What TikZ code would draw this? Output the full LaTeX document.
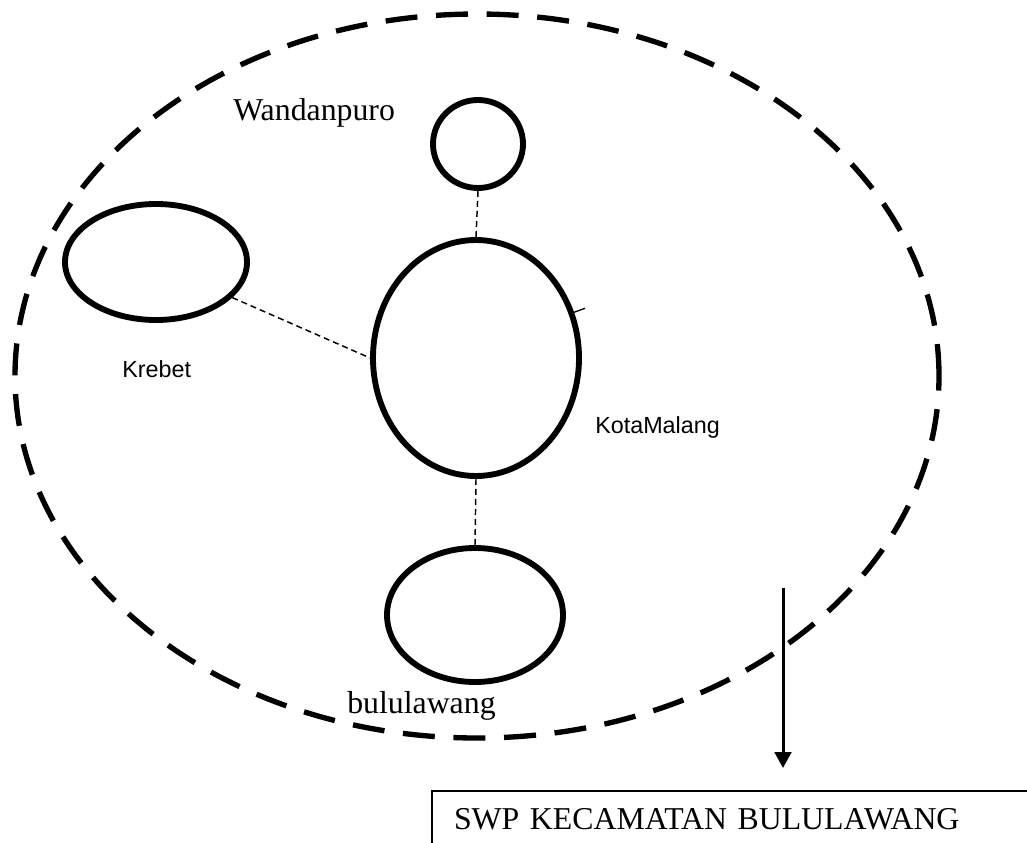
\documentclass[tikz,border=0pt]{standalone}
\usepackage{fontspec}
\setmainfont{Liberation Serif}
\setsansfont{Liberation Sans}
\usetikzlibrary{shapes.geometric,arrows.meta}
\begin{document}
\begin{tikzpicture}[x=0.75pt,y=-0.75pt,
    place/.style={draw,ellipse,line width=4.4pt,inner sep=0pt},
    link/.style={line width=1.1pt,dash pattern=on 4.5pt off 3pt},
    serifname/.style={font=\fontsize{23.85}{28}\selectfont,inner sep=0pt,anchor=base west},
    sansname/.style={font=\sffamily\fontsize{17.5}{21}\selectfont,inner sep=0pt,anchor=base west}]
    \useasboundingbox (0,0) rectangle (1027,842);

    % Define the region boundary
    \node[draw,ellipse,line width=4pt,dash pattern=on 24pt off 14pt,
          minimum width=693pt,minimum height=543pt,inner sep=0pt] (region) at (477,376) {};

    % Places
    \node[place,minimum width=67.5pt,minimum height=66pt] (wandanpuro) at (478,144) {};
    \node[place,minimum width=136.5pt,minimum height=87pt] (krebet) at (156,262) {};
    \node[place,minimum width=154.5pt,minimum height=177pt] (kota) at (476,358) {};
    \node[place,minimum width=132pt,minimum height=100.5pt] (bululawang) at (475,615) {};

    % Links between the places
    \draw[link] (wandanpuro.south) -- (kota.north);
    \draw[link] (krebet.-25) -- (kota.west);
    \draw[link] (kota.south) -- (bululawang.north);
    \draw[line width=1pt] (kota.25) -- ++(11,-4);

    % Names
    \node[serifname] (wname) at (233,120) {Wandanpuro};
    \node[sansname] (kname) at (122,377) {Krebet};
    \node[sansname] (kmname) at (595,433) {KotaMalang};
    \node[serifname] (bname) at (347,713) {bululawang};

    % Result box and arrow
    \node[draw,line width=1.5pt,anchor=north west,inner xsep=16.5pt,inner ysep=8.5pt,
          text height=20pt,text depth=10pt,text width=469pt,align=left,
          font=\fontsize{23.85}{28}\selectfont] (swp) at (431,790) {SWP KECAMATAN BULULAWANG};
    \coordinate (arrowtop) at (783,588);
    \draw[line width=2.25pt,-{Triangle[length=12pt,width=12.5pt]},shorten >=16.5pt] (arrowtop) -- (arrowtop |- swp.north);
\end{tikzpicture}
\end{document}
